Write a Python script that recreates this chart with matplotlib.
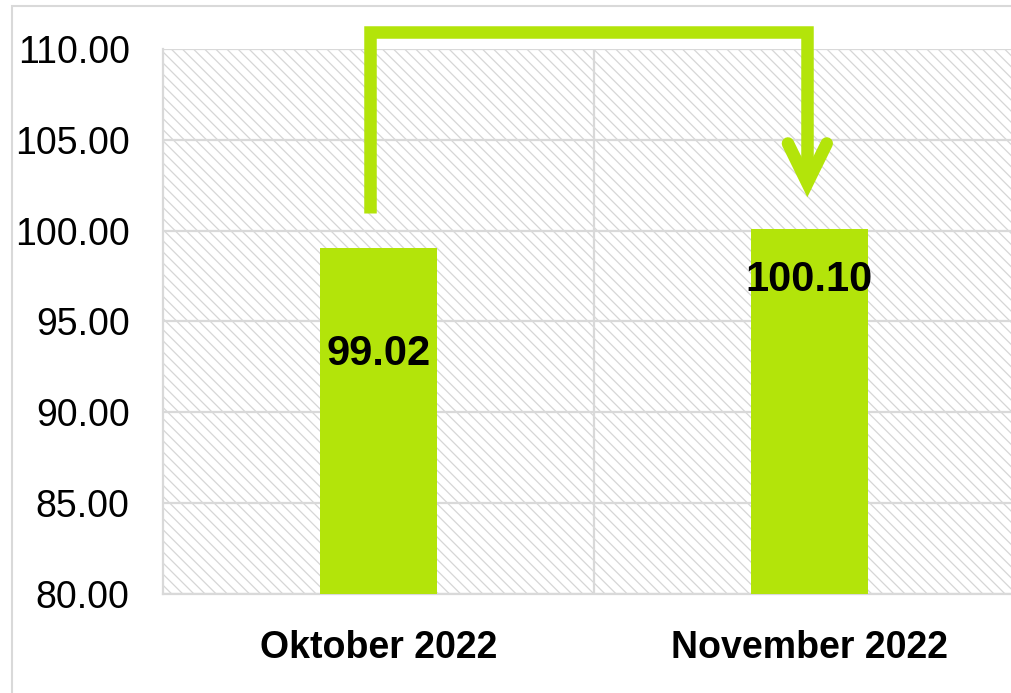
import matplotlib
matplotlib.use("Agg")
import matplotlib.pyplot as plt
from matplotlib.patches import Rectangle
import numpy as np

categories = ["Oktober 2022", "November 2022"]
values = [99.02, 100.10]
value_labels = ["99.02", "100.10"]
label_y = [93.2, 97.3]
yticks = [80, 85, 90, 95, 100, 105, 110]

GREEN = "#b3e40a"
GRID = "#d9d9d9"
HATCH = "#d6d6d6"

plt.rcParams["font.family"] = ["Liberation Sans", "DejaVu Sans"]
plt.rcParams["hatch.color"] = HATCH
plt.rcParams["hatch.linewidth"] = 0.9

fig = plt.figure(figsize=(10.12, 6.93), dpi=100)
ax = fig.add_axes([163/1012, 99/693, (1025-163)/1012, (594-49)/693])

x = np.arange(len(categories))
ax.set_xlim(-0.5, 1.5)
ax.set_ylim(80, 110)

# hatched plot-area background
bg = Rectangle((0, 0), 1, 1, transform=ax.transAxes, facecolor="white",
               edgecolor=HATCH, linewidth=0, hatch="\\\\\\", zorder=0.5)
ax.add_patch(bg)

for yv in yticks:
    ax.axhline(yv, color=GRID, lw=1.6, zorder=1)
for xv in [0.5, 1.5]:
    ax.axvline(xv, color=GRID, lw=1.6, zorder=1)

ax.bar(x, [v - 80 for v in values], bottom=80, width=0.27, color=GREEN, zorder=3)

for xi, lab, ly in zip(x, value_labels, label_y):
    ax.text(xi, ly, lab, ha="center", va="center", fontsize=30,
            fontweight="bold", color="black", zorder=5)

for s in ["top", "right"]:
    ax.spines[s].set_visible(False)
for s in ["left", "bottom"]:
    ax.spines[s].set_color(GRID)
    ax.spines[s].set_linewidth(1.6)

ax.set_yticks(yticks)
ax.set_yticklabels([f"{v:.2f}" for v in yticks], fontsize=27)
ax.set_xticks(x)
ax.set_xticklabels(categories, fontsize=27, fontweight="bold")
ax.tick_params(axis="y", length=0, pad=24)
ax.tick_params(axis="x", length=0, pad=26)

# connecting arrow from Oktober to November
x0 = x[0] - 0.02
x1 = x[1] - 0.005
ax.plot([x0, x0, x1, x1], [100.97, 110.93, 110.93, 102.9], color=GREEN,
        lw=9, solid_joinstyle="miter", solid_capstyle="butt",
        clip_on=False, zorder=6)
ax.plot([x1 - 0.045, x1, x1 + 0.045], [104.8, 102.62, 104.8], color=GREEN,
        lw=9, solid_joinstyle="miter", solid_capstyle="round",
        clip_on=False, zorder=6)

# outer chart border
fig.patches.append(Rectangle((12/1012, -0.1), 1.2, 1.1 - 6/693,
                             transform=fig.transFigure, fill=False,
                             edgecolor=GRID, lw=1.5, zorder=0))

fig.savefig("out.png", dpi=100)
